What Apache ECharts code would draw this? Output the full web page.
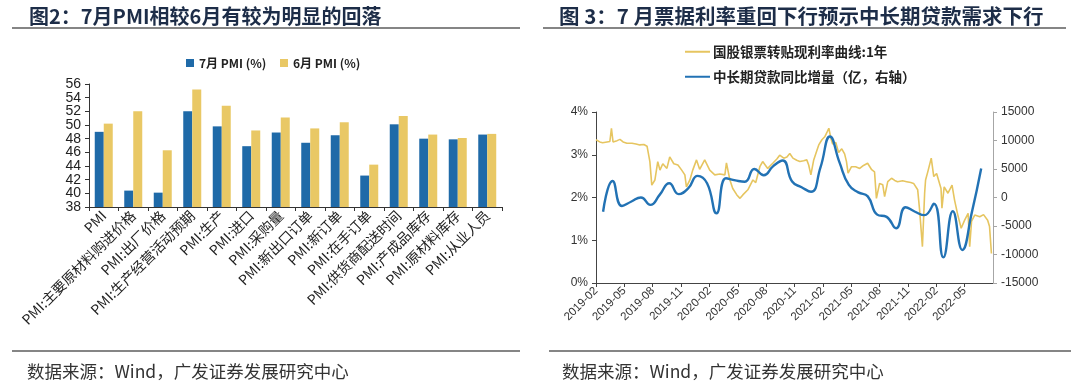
<!DOCTYPE html>
<html>
<head>
<meta charset="utf-8">
<script src="https://cdn.jsdelivr.net/npm/echarts@6/dist/echarts.min.js"></script>
<style>
html,body{margin:0;padding:0;background:#fff;}
#c{width:1080px;height:385px;}
</style>
</head>
<body>
<div id="c"></div>
<script>
// ---------- Figure 2 data ----------
const pmiCategories = ['PMI','PMI:主要原材料购进价格','PMI:出厂价格','PMI:生产经营活动预期','PMI:生产','PMI:进口','PMI:采购量','PMI:新出口订单','PMI:新订单','PMI:在手订单','PMI:供货商配送时间','PMI:产成品库存','PMI:原材料库存','PMI:从业人员'];
const pmiJul = [49.0,40.4,40.1,52.0,49.8,46.9,48.9,47.4,48.5,42.6,50.1,48.0,47.9,48.6];
const pmiJun = [50.2,52.0,46.3,55.2,52.8,49.2,51.1,49.5,50.4,44.2,51.3,48.6,48.1,48.7];
const pmiSeriesNames = ['7月 PMI (%)','6月 PMI (%)'];

// ---------- Figure 3 data ----------
const rateName = '国股银票转贴现利率曲线:1年';
const loanName = '中长期贷款同比增量（亿，右轴）';
const rateDates = ['2019-02-01','2019-02-13','2019-02-22','2019-03-06','2019-03-15','2019-03-20','2019-03-25','2019-04-08','2019-04-17','2019-04-27',
'2019-05-09','2019-05-25','2019-06-08','2019-06-20','2019-07-03','2019-07-13','2019-07-22','2019-07-28','2019-08-08','2019-08-17',
'2019-08-24','2019-09-03','2019-09-16','2019-09-25','2019-10-08','2019-10-21','2019-11-03','2019-11-13','2019-11-18','2019-11-29',
'2019-12-08','2019-12-20','2019-12-30','2020-01-16','2020-02-02','2020-02-18','2020-03-04','2020-03-20','2020-03-25','2020-04-06',
'2020-04-15','2020-04-28','2020-05-08','2020-05-17','2020-06-03','2020-06-19','2020-06-28','2020-07-11','2020-07-20','2020-08-06',
'2020-08-22','2020-09-05','2020-09-14','2020-09-27','2020-10-07','2020-10-16','2020-10-26','2020-11-08','2020-11-18','2020-11-30',
'2020-12-10','2020-12-16','2020-12-23','2021-01-02','2021-01-12','2021-01-18','2021-01-28','2021-02-07','2021-02-15','2021-02-20',
'2021-02-26','2021-03-02','2021-03-12','2021-03-21','2021-04-01','2021-04-10','2021-04-16','2021-04-21','2021-05-02','2021-05-15',
'2021-05-28','2021-06-10','2021-06-23','2021-07-06','2021-07-15','2021-07-21','2021-08-01','2021-08-11','2021-08-17','2021-08-27',
'2021-09-09','2021-09-19','2021-09-28','2021-10-14','2021-10-27','2021-11-10','2021-11-19','2021-12-02','2021-12-08','2021-12-17',
'2021-12-24','2021-12-27','2022-01-04','2022-01-15','2022-01-23','2022-02-02','2022-02-16','2022-02-19','2022-02-26','2022-03-08',
'2022-03-21','2022-03-29','2022-04-09','2022-04-20','2022-05-01','2022-05-12','2022-05-17','2022-05-23','2022-06-03','2022-06-19',
'2022-07-01','2022-07-14','2022-07-20','2022-07-26'];
const rateValues = [3.35,3.30,3.28,3.30,3.31,3.62,3.30,3.33,3.36,3.30,
3.27,3.27,3.25,3.23,3.24,3.20,2.84,2.29,2.41,2.84,
2.64,2.79,2.68,2.95,2.79,2.76,2.64,2.53,2.25,2.41,
2.64,2.88,2.66,2.88,2.64,2.53,2.55,2.53,2.81,2.41,
2.21,2.06,1.98,2.06,2.18,2.41,2.35,2.72,2.84,2.68,
2.80,2.90,2.99,2.92,2.95,3.03,2.92,2.87,2.84,2.86,
2.88,2.76,2.53,2.88,3.10,3.23,3.35,3.42,3.54,3.62,
3.40,3.25,3.29,3.05,3.14,3.02,2.84,2.57,2.72,2.72,
2.68,2.75,2.80,2.65,2.60,1.98,2.33,2.30,2.02,2.37,
2.45,2.40,2.37,2.39,2.37,2.35,2.33,2.18,1.71,0.85,
2.10,2.41,2.60,2.92,2.49,2.56,2.21,1.75,2.25,2.10,
2.29,1.94,1.60,1.28,1.47,1.63,0.85,1.45,1.59,1.55,
1.60,1.47,1.32,0.69];
const loanMonths = ['2019-02','2019-03','2019-04','2019-05','2019-06','2019-07','2019-08','2019-09','2019-10','2019-11','2019-12',
'2020-01','2020-02','2020-03','2020-04','2020-05','2020-06','2020-07','2020-08','2020-09','2020-10','2020-11','2020-12',
'2021-01','2021-02','2021-03','2021-04','2021-05','2021-06','2021-07','2021-08','2021-09','2021-10','2021-11','2021-12',
'2022-01','2022-02','2022-03','2022-04','2022-05','2022-06'];
const loanValues = [-2500,2900,-1500,-700,0,-1300,500,2500,600,1600,3800,
2500,-2770,3370,3000,2770,5000,3900,5500,6500,2800,1800,1000,
5300,10700,6200,2200,900,200,-3000,-3400,-5400,-1700,-2500,-3100,
-1100,-10500,-2400,-9200,-2700,5100];

const axisStartYear = 2019, axisStartMonth = 2; // x axis begins at 2019-02
const monthPointOffset = 0.75; // where within a month a monthly point is drawn

function monthIndexFromDate(s){
  const p = s.split('-').map(Number);
  const d = p[2] || 1;
  return (p[0]-axisStartYear)*12 + (p[1]-axisStartMonth) + (d-1)/30;
}
function monthLabel(v){
  const t = axisStartYear*12 + (axisStartMonth-1) + Math.round(v);
  const y = Math.floor(t/12), m = t%12 + 1;
  return y + '-' + (m<10?'0':'') + m;
}

const rateData = rateDates.map((d,i)=>[monthIndexFromDate(d), rateValues[i]]);
const loanData = loanMonths.map((d,i)=>[monthIndexFromDate(d)+monthPointOffset, loanValues[i]]);

const FONT = '"Liberation Sans", Arial, "Noto Sans CJK SC", sans-serif';
const CJK = '"Noto Sans CJK SC", "Liberation Sans", sans-serif';
const BLUE = '#1F6AA8';
const YEL = '#E9C865';
const LBLUE = '#2272B4';
const LYEL = '#E6C560';

const pmiMin = 38, pmiMax = 56, pmiStep = 2;
// the tightly packed left labels are split over two coincident axes so none gets dropped as overlapping
const pmiLabelA = v => ((Math.round(v) - pmiMin) % (2*pmiStep) === 0) ? String(v) : '';
const pmiLabelB = v => ((Math.round(v) - pmiMin) % (2*pmiStep) !== 0) ? String(v) : '';

const chart = echarts.init(document.getElementById('c'), null, {renderer:'canvas'});
chart.setOption({
  backgroundColor:'#fff',
  animation:false,
  textStyle:{fontFamily:FONT},
  title:[
    {text:'图2：7月PMI相较6月有较为明显的回落', left:24, top:1, textStyle:{fontFamily:CJK, fontSize:20, fontWeight:'bold', color:'#1d2d48'}},
    {text:'图 3：7 月票据利率重回下行预示中长期贷款需求下行', left:554, top:1, textStyle:{fontFamily:CJK, fontSize:20.5, fontWeight:'bold', color:'#1d2d48'}},
    {text:'数据来源：Wind，广发证券发展研究中心', left:22, top:358, textStyle:{fontFamily:CJK, fontSize:17.5, fontWeight:'normal', color:'#333'}},
    {text:'数据来源：Wind，广发证券发展研究中心', left:557, top:358, textStyle:{fontFamily:CJK, fontSize:17.5, fontWeight:'normal', color:'#333'}}
  ],
  graphic:[
    {type:'line', shape:{x1:12,y1:28,x2:520,y2:28}, style:{stroke:'#858585', lineWidth:2}},
    {type:'line', shape:{x1:543,y1:28,x2:1066,y2:28}, style:{stroke:'#858585', lineWidth:2}},
    {type:'line', shape:{x1:12,y1:351,x2:520,y2:351}, style:{stroke:'#858585', lineWidth:2}},
    {type:'line', shape:{x1:549,y1:351,x2:1071,y2:351}, style:{stroke:'#858585', lineWidth:2}}
  ],
  legend:[
    {data:[pmiSeriesNames[0]], left:181, top:52, icon:'rect', itemWidth:8, itemHeight:8, itemGap:4, textStyle:{fontFamily:CJK, fontSize:12, fontWeight:'bold', color:'#222'}},
    {data:[pmiSeriesNames[1]], left:275, top:52, icon:'rect', itemWidth:8, itemHeight:8, itemGap:4, textStyle:{fontFamily:CJK, fontSize:12, fontWeight:'bold', color:'#222'}},
    {data:[rateName], left:680, top:40, icon:'rect', itemWidth:25, itemHeight:2, textStyle:{fontFamily:CJK, fontSize:13.5, fontWeight:'bold', color:'#222', padding:[0,0,0,-2]}},
    {data:[loanName], left:680, top:65, icon:'rect', itemWidth:25, itemHeight:2, textStyle:{fontFamily:CJK, fontSize:13.5, fontWeight:'bold', color:'#222', padding:[0,0,0,-2]}}
  ],
  grid:[
    {left:89, right:578, top:84, bottom:178, containLabel:false},
    {left:596, right:87, top:112, bottom:102, containLabel:false}
  ],
  xAxis:[
    {type:'category', gridIndex:0, data:pmiCategories, boundaryGap:true,
     axisLine:{lineStyle:{color:'#333', width:1}},
     axisTick:{show:true, alignWithLabel:false, length:4, lineStyle:{color:'#333'}},
     axisLabel:{rotate:45, interval:0, fontSize:14, color:'#222', fontFamily:CJK, margin:6}},
    {type:'value', gridIndex:1, min:0, max:42, interval:3,
     axisLine:{lineStyle:{color:'#444', width:1}},
     axisTick:{show:true, length:4, lineStyle:{color:'#444'}},
     splitLine:{show:false},
     axisLabel:{rotate:45, fontSize:11.5, color:'#333', margin:6, showMaxLabel:false, formatter:monthLabel}}
  ],
  yAxis:[
    {type:'value', gridIndex:0, min:pmiMin, max:pmiMax, interval:pmiStep,
     axisLine:{show:true, lineStyle:{color:'#333'}},
     axisTick:{show:true, length:4, lineStyle:{color:'#333'}},
     splitLine:{show:false},
     axisLabel:{fontSize:14, color:'#222', margin:8, showMinLabel:true, showMaxLabel:true, formatter:pmiLabelA}},
    {type:'value', gridIndex:1, min:0, max:4, interval:1, position:'left',
     axisLine:{show:true, lineStyle:{color:'#444'}},
     axisTick:{show:true, length:4, lineStyle:{color:'#444'}},
     splitLine:{show:false},
     axisLabel:{fontSize:12, color:'#333', margin:8, formatter:v=>v+'%'}},
    {type:'value', gridIndex:1, min:-15000, max:15000, interval:5000, position:'right',
     axisLine:{show:true, lineStyle:{color:'#a6a6a6'}},
     axisTick:{show:true, length:4, lineStyle:{color:'#a6a6a6'}},
     splitLine:{show:false},
     axisLabel:{fontSize:12, color:'#333', margin:8, formatter:v=>String(v)}},
    {type:'value', gridIndex:0, min:pmiMin, max:pmiMax, interval:pmiStep, position:'left',
     axisLine:{show:false}, axisTick:{show:false}, splitLine:{show:false},
     axisLabel:{fontSize:14, color:'#222', margin:8, showMinLabel:true, showMaxLabel:true, formatter:pmiLabelB}}
  ],
  series:[
    {name:pmiSeriesNames[0], type:'bar', xAxisIndex:0, yAxisIndex:0, data:pmiJul, barWidth:9, barGap:'0%', itemStyle:{color:BLUE}},
    {name:pmiSeriesNames[1], type:'bar', xAxisIndex:0, yAxisIndex:0, data:pmiJun, barWidth:9, barGap:'0%', itemStyle:{color:YEL}},
    {name:rateName, type:'line', xAxisIndex:1, yAxisIndex:1, data:rateData, showSymbol:false, smooth:false,
     lineStyle:{color:LYEL, width:1.6}, itemStyle:{color:LYEL}},
    {name:loanName, type:'line', xAxisIndex:1, yAxisIndex:2, data:loanData, showSymbol:false, smooth:0.5,
     lineStyle:{color:LBLUE, width:2.4}, itemStyle:{color:LBLUE}}
  ]
});
</script>
</body>
</html>
